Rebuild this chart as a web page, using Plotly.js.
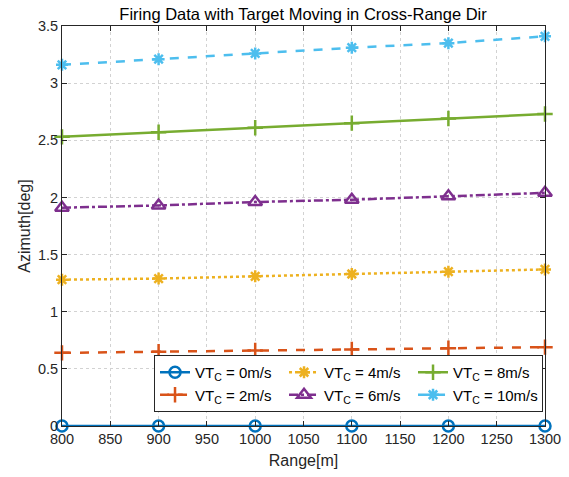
<!DOCTYPE html>
<html>
<head>
<meta charset="utf-8">
<script src="https://cdn.plot.ly/plotly-3.0.1.min.js"></script>
<style>
  html, body { margin: 0; padding: 0; background: #fff; }
  #chart { width: 569px; height: 477px; }
</style>
</head>
<body>
<div id="chart"></div>
<script>
// Range to target [m]
const range = [800, 900, 1000, 1100, 1200, 1300];

// Azimuth [deg] for each cross-range target speed
const az0  = [0, 0, 0, 0, 0, 0];
const az2  = [0.64, 0.65, 0.66, 0.67, 0.68, 0.69];
const az4  = [1.28, 1.29, 1.31, 1.33, 1.35, 1.37];
const az6  = [1.91, 1.93, 1.96, 1.98, 2.01, 2.04];
const az8  = [2.53, 2.57, 2.61, 2.65, 2.69, 2.73];
const az10 = [3.16, 3.21, 3.26, 3.31, 3.35, 3.41];

const speedLabels = ['0m/s', '2m/s', '4m/s', '6m/s', '8m/s', '10m/s'];
const xTicks = [800, 850, 900, 950, 1000, 1050, 1100, 1150, 1200, 1250, 1300];
const yTicks = [0, 0.5, 1, 1.5, 2, 2.5, 3, 3.5];

const series = [
  { y: az0,  color: '#0072BD', dash: 'solid',   symbol: 'circle-open',      size: 11, rank: 1 },
  { y: az2,  color: '#D95319', dash: 'dash',    symbol: 'cross-thin-open',  size: 11, rank: 4 },
  { y: az4,  color: '#EDB120', dash: 'dot',     symbol: 'asterisk-open',    size: 10, rank: 2 },
  { y: az6,  color: '#7E2F8E', dash: 'dashdot', symbol: 'triangle-up-open', size: 12, rank: 5 },
  { y: az8,  color: '#77AC30', dash: 'solid',   symbol: 'cross-thin-open',  size: 11, rank: 3 },
  { y: az10, color: '#4DBEEE', dash: 'dash',    symbol: 'asterisk-open',    size: 10, rank: 6 }
];

const traces = series.map((s, i) => ({
  x: range,
  y: s.y,
  type: 'scatter',
  mode: 'lines+markers',
  name: 'VT<sub>C</sub> = ' + speedLabels[i],
  legendrank: s.rank,
  cliponaxis: false,
  line: { color: s.color, width: 2.5, dash: s.dash },
  marker: { symbol: s.symbol, size: s.size, color: s.color, line: { color: s.color, width: 2.5 } }
}));

const axisCommon = {
  showline: true,
  linecolor: '#262626',
  linewidth: 1,
  mirror: 'ticks',
  ticks: 'inside',
  ticklen: 5,
  tickcolor: '#262626',
  showgrid: true,
  gridcolor: '#d2d2d2',
  griddash: 'dot',
  gridwidth: 1,
  zeroline: false,
  tickfont: { family: 'Liberation Sans, Arial, sans-serif', size: 14.5, color: '#262626' }
};

const layout = {
  width: 569,
  height: 477,
  margin: { l: 62, r: 24, t: 26, b: 51 },
  paper_bgcolor: '#ffffff',
  plot_bgcolor: '#ffffff',
  font: { family: 'Liberation Sans, Arial, sans-serif', color: '#262626' },
  title: {
    text: 'Firing Data with Target Moving in Cross-Range Dir',
    font: { size: 16.5, color: '#000000' },
    x: 0.5326, xanchor: 'center',
    y: 0.97, yanchor: 'middle'
  },
  xaxis: Object.assign({}, axisCommon, {
    range: [800, 1300],
    tickvals: xTicks,
    ticktext: xTicks.map(String),
    title: { text: 'Range[m]', font: { size: 16, color: '#262626' }, standoff: 8 }
  }),
  yaxis: Object.assign({}, axisCommon, {
    range: [0, 3.5],
    tickvals: yTicks,
    ticktext: yTicks.map(String),
    automargin: true,
    title: { text: 'Azimuth[deg]', font: { size: 16, color: '#262626' }, standoff: 3 }
  }),
  showlegend: true,
  legend: {
    orientation: 'h',
    x: 0.9959, xanchor: 'right',
    y: 0.035, yanchor: 'bottom',
    entrywidth: 84,
    bgcolor: '#ffffff',
    bordercolor: '#262626',
    borderwidth: 1,
    font: { size: 15, color: '#000000' },
    traceorder: 'normal'
  }
};

Plotly.newPlot('chart', traces, layout, { displayModeBar: false, staticPlot: true });
</script>
</body>
</html>
